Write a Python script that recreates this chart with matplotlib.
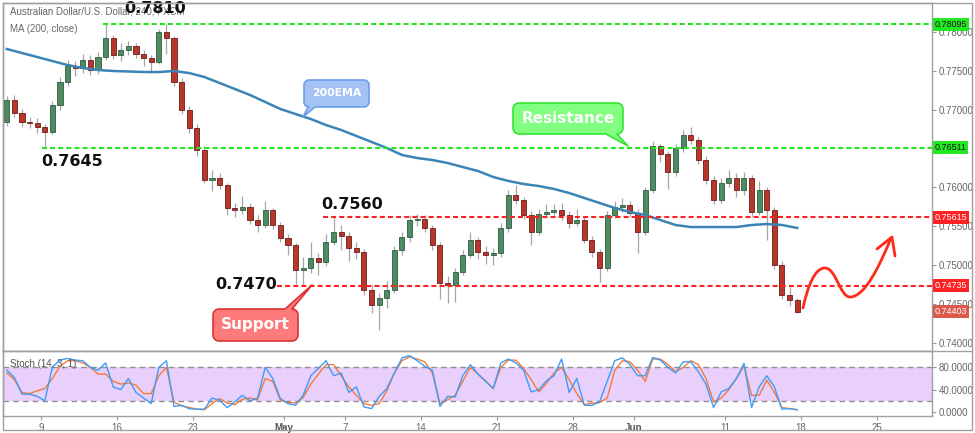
import numpy as np
import matplotlib.pyplot as plt
from matplotlib.patches import Polygon, Rectangle, PathPatch
from matplotlib.path import Path

# AUD/USD, 12h candles starting Apr 5 2018 (x = trading days, Mon Apr 9 = 0)
first_open = 0.76840
closes = [
    0.77122, 0.76955, 0.76840, 0.76827, 0.76775, 0.76711, 0.77058, 0.77354, 0.77559, 0.77534,
    0.77636, 0.77508, 0.77675, 0.77919, 0.77701, 0.77765, 0.77816, 0.77713, 0.77662, 0.77611,
    0.77996, 0.77919, 0.77354, 0.76994, 0.76763, 0.76480, 0.76094, 0.76120, 0.76030, 0.75735,
    0.75709, 0.75747, 0.75580, 0.75516, 0.75709, 0.75516, 0.75349, 0.75259, 0.74938, 0.74964,
    0.75092, 0.75041, 0.75298, 0.75426, 0.75375, 0.75221, 0.75169, 0.74681, 0.74488, 0.74578,
    0.74681, 0.75195, 0.75362, 0.75580, 0.75593, 0.75478, 0.75259, 0.74771, 0.74745, 0.74912,
    0.75131, 0.75323, 0.75169, 0.75131, 0.75156, 0.75478, 0.75902, 0.75837, 0.75645, 0.75426,
    0.75657, 0.75683, 0.75709, 0.75645, 0.75542, 0.75580, 0.75323, 0.75169, 0.74964, 0.75645,
    0.75747, 0.75773, 0.75670, 0.75426, 0.75966, 0.76531, 0.76428, 0.76197, 0.76506, 0.76673,
    0.76608, 0.76351, 0.76094, 0.75837, 0.76056, 0.76120, 0.75966, 0.76120, 0.75683, 0.75966,
    0.75709, 0.75002, 0.74617, 0.74552, 0.74403]
highs = [
    0.77180, 0.77190, 0.77010, 0.76900, 0.76890, 0.76820, 0.77110, 0.77420, 0.77640, 0.77630,
    0.77720, 0.77700, 0.77740, 0.78095, 0.77960, 0.77850, 0.77880, 0.77860, 0.77770, 0.77700,
    0.78040, 0.78100, 0.77950, 0.77400, 0.77050, 0.76813, 0.76530, 0.76220, 0.76180, 0.76060,
    0.75800, 0.75890, 0.75800, 0.75640, 0.75820, 0.75740, 0.75560, 0.75400, 0.75290, 0.75100,
    0.75300, 0.75150, 0.75400, 0.75615, 0.75520, 0.75420, 0.75300, 0.75210, 0.74750, 0.74640,
    0.74800, 0.75250, 0.75420, 0.75640, 0.75660, 0.75640, 0.75520, 0.75300, 0.74860, 0.74960,
    0.75200, 0.75420, 0.75360, 0.75240, 0.75220, 0.75540, 0.75960, 0.76030, 0.75880, 0.75690,
    0.75720, 0.75780, 0.75780, 0.75800, 0.75700, 0.75720, 0.75620, 0.75380, 0.75210, 0.75700,
    0.75820, 0.75860, 0.75830, 0.75720, 0.76010, 0.76600, 0.76560, 0.76470, 0.76560, 0.76740,
    0.76775, 0.76650, 0.76400, 0.76150, 0.76120, 0.76220, 0.76180, 0.76200, 0.76160, 0.76080,
    0.76010, 0.75750, 0.75050, 0.74720, 0.74580]
lows = [
    0.76790, 0.76900, 0.76780, 0.76760, 0.76700, 0.76515, 0.76680, 0.77000, 0.77300, 0.77430,
    0.77470, 0.77440, 0.77460, 0.77640, 0.77650, 0.77620, 0.77700, 0.77660, 0.77560, 0.77470,
    0.77580, 0.77720, 0.77300, 0.76940, 0.76700, 0.76400, 0.76050, 0.75950, 0.75980, 0.75640,
    0.75620, 0.75660, 0.75530, 0.75420, 0.75480, 0.75470, 0.75300, 0.75130, 0.74760, 0.74735,
    0.74900, 0.74880, 0.74990, 0.75260, 0.75200, 0.75050, 0.75080, 0.74620, 0.74380, 0.74167,
    0.74450, 0.74640, 0.75130, 0.75300, 0.75500, 0.75420, 0.75200, 0.74560, 0.74520, 0.74530,
    0.74870, 0.75090, 0.75080, 0.75010, 0.75000, 0.75100, 0.75430, 0.75780, 0.75590, 0.75260,
    0.75390, 0.75600, 0.75640, 0.75580, 0.75480, 0.75500, 0.75280, 0.75100, 0.74780, 0.74930,
    0.75600, 0.75680, 0.75620, 0.75154, 0.75390, 0.75930, 0.76330, 0.75980, 0.76150, 0.76450,
    0.76560, 0.76300, 0.76040, 0.75780, 0.75800, 0.76000, 0.75880, 0.75900, 0.75620, 0.75640,
    0.75320, 0.74950, 0.74560, 0.74480, 0.74380]

# 200 EMA, one value per trading day (every second candle)
ema200 = [
    0.77778, 0.77726, 0.77675, 0.77623, 0.77572, 0.77534, 0.77508, 0.77495, 0.77489, 0.77482,
    0.77482, 0.77495, 0.77469, 0.77418, 0.77341, 0.77264, 0.77187, 0.77097, 0.77007, 0.76942,
    0.76878, 0.76801, 0.76737, 0.76660, 0.76583, 0.76506, 0.76416, 0.76377, 0.76351, 0.76313,
    0.76261, 0.76210, 0.76133, 0.76082, 0.76043, 0.76017, 0.75979, 0.75927, 0.75863, 0.75799,
    0.75735, 0.75683, 0.75645, 0.75580, 0.75516, 0.75490, 0.75490, 0.75490, 0.75490, 0.75516,
    0.75529, 0.75516, 0.75478]

stoch_k = [
    75, 62, 32, 32, 28, 20, 81, 93, 96, 93,
    92, 80, 75, 88, 45, 40, 60, 35, 25, 15,
    80, 92, 10, 12, 6, 5, 5, 25, 21, 8,
    18, 30, 20, 25, 80, 60, 24, 15, 12, 30,
    65, 78, 92, 65, 70, 35, 45, 9, 6, 28,
    42, 70, 97, 101, 92, 82, 75, 10, 28, 27,
    65, 85, 68, 55, 42, 88, 95, 88, 75, 36,
    40, 56, 65, 95, 35, 60, 12, 12, 18, 55,
    92, 97, 85, 65, 65, 98, 93, 80, 70, 90,
    90, 72, 50, 8, 36, 42, 60, 87, 8, 45,
    65, 45, 5, 6, 4]
stoch_d = [
    70, 58, 35, 33, 38, 42, 60, 82, 92, 92,
    88, 80, 68, 68, 55, 50, 52, 48, 33, 33,
    65, 80, 18, 11, 8, 5, 4, 15, 24, 16,
    13, 23, 25, 22, 60, 55, 21, 17, 16, 26,
    50, 68, 85, 85, 65, 45, 30, 15, 12, 15,
    38, 70, 92, 99, 95, 90, 70, 15, 22, 30,
    55, 80, 68, 56, 42, 80, 93, 93, 78, 58,
    36, 51, 70, 80, 58, 33, 13, 16, 17, 25,
    75, 92, 90, 75, 55, 95, 95, 85, 72, 80,
    92, 85, 60, 18, 25, 40, 60, 83, 30, 30,
    57, 35, 8, 6, 4]

tick_days = [0, 5, 10, 16, 20, 25, 30, 35, 39, 45, 50, 55]
tick_labels = ['9', '16', '23', 'May', '7', '14', '21', '28', 'Jun', '11', '18', '25']
price_ticks = [0.740, 0.745, 0.750, 0.755, 0.760, 0.770, 0.775, 0.780]   # 0.765 sits under a box

green_levels = [0.78095, 0.76511]
green_start = [13, 5]          # candle index where the line begins
red_levels = [0.75615, 0.74735]
red_start = [42, 36]
last_price = 0.74403

W, H = 975, 433
fig = plt.figure(figsize=(W / 100, H / 100), dpi=100)
ax = fig.add_axes([3 / W, 1 - 351 / H, 929 / W, 348 / H])
axs = fig.add_axes([3 / W, 1 - 415.7 / H, 929 / W, 64.7 / H], sharex=ax)

o = np.r_[first_open, closes[:-1]]
c = np.array(closes)
x = -2.25 + 0.5 * np.arange(len(c))
up = c >= o
ax.vlines(x, lows, highs, color='#a6a6a6', lw=0.9, zorder=2)
ax.bar(x, np.maximum(np.abs(c - o), 0.00003), bottom=np.minimum(o, c), width=0.33,
       color=np.where(up, '#4f8b62', '#b8372c'), edgecolor=np.where(up, '#2e5e3f', '#6b1d16'),
       lw=0.6, zorder=3)
ax.plot(x[::2], ema200, color='#3c84b6', lw=1.8, zorder=4)

xmax = 58.62
dash = (0, (2.4, 1.5))
for lvl, s in zip(green_levels, green_start):
    ax.plot([x[s] - 0.2, xmax], [lvl, lvl], color='#22e822', lw=1.5, ls=dash, zorder=5)
    ax.text(1.0025, lvl, f'{lvl:.5f}', transform=ax.get_yaxis_transform(), ha='left', va='center',
            fontsize=6.5, family='Liberation Sans', color='#1a1a1a', clip_on=False, zorder=10,
            bbox=dict(boxstyle='square,pad=0.2', fc='#22e822', ec='none'))
for lvl, s in zip(red_levels, red_start):
    ax.plot([x[s] - 0.2, xmax], [lvl, lvl], color='#ff2222', lw=1.5, ls=dash, zorder=5)
    ax.text(1.0025, lvl, f'{lvl:.5f}', transform=ax.get_yaxis_transform(), ha='left', va='center',
            fontsize=6.5, family='Liberation Sans', color='white', clip_on=False, zorder=10,
            bbox=dict(boxstyle='square,pad=0.2', fc='#ff2222', ec='none'))
ax.text(1.0025, last_price, f'{last_price:.5f}', transform=ax.get_yaxis_transform(), ha='left',
        va='center', fontsize=6.5, family='Liberation Sans', color='white', clip_on=False,
        zorder=10, bbox=dict(boxstyle='square,pad=0.2', fc='#dc5a4b', ec='none'))

ax.set_xlim(-2.5, xmax)
ax.set_ylim(0.73897, 0.78369)
ax.yaxis.tick_right()
ax.set_yticks(price_ticks)
ax.set_yticklabels([f'{v:.5f}' for v in price_ticks])
ax.tick_params(axis='y', direction='out', length=3, width=0.8, color='#999999',
               labelsize=7, labelcolor='#666666', pad=2)
ax.tick_params(axis='x', bottom=False, labelbottom=False)
for lab in ax.get_yticklabels():
    lab.set_family('Liberation Sans')

ax.text(0.007, 0.976, 'Australian Dollar/U.S. Dollar, 240, FXCM', transform=ax.transAxes,
        fontsize=7, family='Liberation Sans', color='#666666', va='center')
ax.text(0.007, 0.924, 'MA (200, close)', transform=ax.transAxes,
        fontsize=7, family='Liberation Sans', color='#666666', va='center')

bold = dict(fontsize=11.5, fontweight='bold', color='#111111', ha='center', va='center', zorder=12)
ax.text(7.5, 0.78292, '0.7810', **bold)
ax.text(2.05, 0.76338, '0.7645', **bold)
ax.text(20.45, 0.75786, '0.7560', **bold)
ax.text(13.5, 0.74751, '0.7470', **bold)

# stochastic pane
axs.axhspan(20, 80, color='#e9cffb', zorder=0, lw=0)
for lvl in (20, 80):
    axs.axhline(lvl, color='#8f8f8f', lw=1, ls=(0, (4, 3)), zorder=1)
axs.plot(x, stoch_k, color='#3d9cf5', lw=1, zorder=3)
axs.plot(x, stoch_d, color='#f47a3a', lw=1, zorder=2)
axs.set_ylim(-6.7, 109.4)
axs.yaxis.tick_right()
axs.set_yticks([0, 40, 80])
axs.set_yticklabels(['0.0000', '40.0000', '80.0000'])
axs.set_xticks(tick_days)
axs.set_xticklabels(tick_labels)
axs.tick_params(direction='out', length=3, width=0.8, color='#999999', labelsize=7,
                labelcolor='#666666', pad=2)
for lab in axs.get_xticklabels() + axs.get_yticklabels():
    lab.set_family('Liberation Sans')
for lab in axs.get_xticklabels():
    if lab.get_text() in ('May', 'Jun'):
        lab.set_fontweight('bold')
        lab.set_color('#555555')
axs.text(0.007, 0.8, 'Stoch (14, 3, 1)', transform=axs.transAxes, fontsize=7,
         family='Liberation Sans', color='#555555', va='center')

for a in (ax, axs):
    for sp in a.spines.values():
        sp.set_color('#a0a0a0')
        sp.set_linewidth(1)

# overlay in pixel coordinates for the drawn callouts and frame
ov = fig.add_axes([0, 0, 1, 1], zorder=20)
ov.set_xlim(0, W)
ov.set_ylim(H, 0)
ov.axis('off')
ov.patch.set_alpha(0)
ov.add_patch(Rectangle((3, 3), 969, 427, fill=False, ec='#a0a0a0', lw=1))
ov.plot([3, 972], [351, 351], color='#a0a0a0', lw=1)


def bubble(x0, y0, x1, y1, r, side, b0, b1, tip, fc, ec):
    def arc(cx, cy, a0, a1):
        a = np.radians(np.linspace(a0, a1, 7))
        return list(zip(cx + r * np.cos(a), cy + r * np.sin(a)))
    pts = arc(x0 + r, y0 + r, 180, 270)
    if side == 'top':
        pts += [(b0, y0), tip, (b1, y0)]
    pts += arc(x1 - r, y0 + r, 270, 360)
    pts += arc(x1 - r, y1 - r, 0, 90)
    if side == 'bottom':
        pts += [(b1, y1), tip, (b0, y1)]
    pts += arc(x0 + r, y1 - r, 90, 180)
    ov.add_patch(Polygon(pts, closed=True, fc=fc, ec=ec, lw=1.2, joinstyle='round'))


bubble(304, 80, 369, 107, 5, 'bottom', 308, 315, (303, 117), '#a4c2f4', '#6d9eeb')
ov.text(336.5, 93.5, '200EMA', color='white', fontsize=7.8, fontweight='bold',
        ha='center', va='center')
bubble(513, 103, 623, 134, 6, 'bottom', 606, 617, (628, 146), '#80ff80', '#33e633')
ov.text(568, 118.5, 'Resistance', color='white', fontsize=11, fontweight='bold',
        ha='center', va='center')
bubble(213, 309, 298, 341, 6, 'top', 285, 292, (312, 285), '#ff7b7b', '#dd3333')
ov.text(255.5, 325, 'Support', color='white', fontsize=11, fontweight='bold',
        ha='center', va='center')

# hand-drawn projection arrow
verts = [(803, 308), (808, 285), (815, 268), (825, 268),
         (836, 268), (840, 297), (850, 297),
         (865, 297), (880, 265), (891, 238)]
codes = [Path.MOVETO] + [Path.CURVE4] * 9
ov.add_patch(PathPatch(Path(verts, codes), fill=False, ec='#ff2a1a', lw=2, capstyle='round'))
ov.plot([877, 892, 895], [249, 237, 256], color='#ff2a1a', lw=2, solid_capstyle='round',
        solid_joinstyle='round')

fig.savefig('out.png', dpi=100)
